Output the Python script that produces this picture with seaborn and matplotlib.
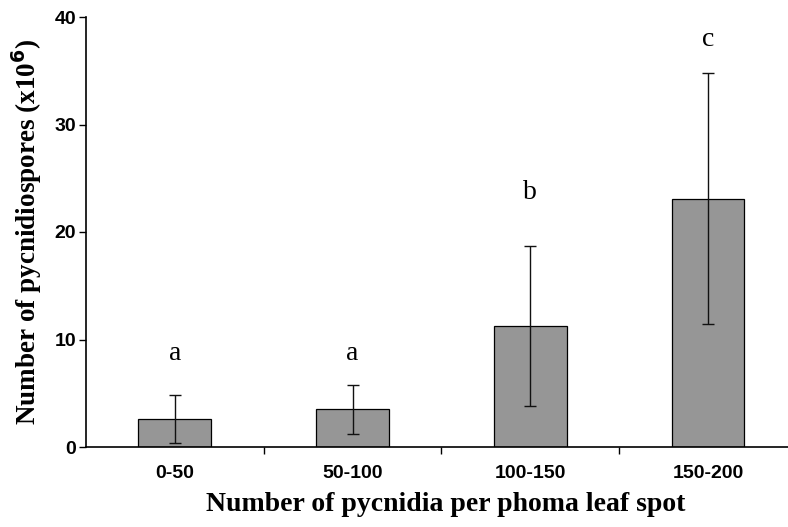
import matplotlib
matplotlib.use("Agg")
import matplotlib.pyplot as plt
import seaborn as sns
import pandas as pd

categories = ["0-50", "50-100", "100-150", "150-200"]
means = [2.6, 3.5, 11.25, 23.1]
errors = [2.2, 2.3, 7.45, 11.7]
letters = ["a", "a", "b", "c"]
letter_y = [8.7, 8.7, 23.7, 37.9]
yticks = [0, 10, 20, 30, 40]

sns.set_style("ticks")
plt.rcParams.update({"text.color": "black", "axes.labelcolor": "black",
                     "xtick.color": "black", "ytick.color": "black",
                     "axes.edgecolor": "black"})
df = pd.DataFrame({"cat": categories, "val": means})

fig = plt.figure(figsize=(7.88, 5.27), dpi=100)
ax = fig.add_axes([86 / 788, 1 - 447 / 527, (788 - 86) / 788, (447 - 17) / 527])

sns.barplot(data=df, x="cat", y="val", color="#969696", saturation=1,
            edgecolor="black", linewidth=0.9, width=0.41, errorbar=None, ax=ax)
ax.errorbar(range(len(categories)), means, yerr=errors, fmt="none",
            ecolor="#111111", elinewidth=1.0, capsize=4, capthick=1.0)

for i, (l, y) in enumerate(zip(letters, letter_y)):
    ax.text(i, y, l, ha="center", va="center", fontsize=20,
            family="Liberation Serif", color="black")

ax.set_ylim(0, 40)
ax.set_xlim(-0.5, 3.45)
ax.set_yticks(yticks)
ax.set_yticklabels([str(t) for t in yticks], fontsize=14, fontweight="bold",
                   family="Liberation Sans")
ax.set_xticks([0.5, 1.5, 2.5])
ax.set_xticklabels([])
ax.set_xticks(range(len(categories)), minor=True)
ax.set_xticklabels(categories, minor=True, fontsize=14, fontweight="bold",
                   family="Liberation Sans")
ax.tick_params(axis="x", which="minor", length=0, pad=13)
ax.tick_params(axis="x", which="major", length=5, width=1, direction="out")
ax.tick_params(axis="y", length=5, width=1, direction="out", pad=2)

ax.set_xlabel("Number of pycnidia per phoma leaf spot", fontsize=20,
              fontweight="bold", family="Liberation Serif", labelpad=10)
ax.xaxis.set_label_coords(0.512, -0.105)
ax.set_ylabel("Number of pycnidiospores (x10$^{\\mathbf{6}}$)", fontsize=19.5,
              fontweight="bold", family="Liberation Serif", labelpad=8)

for s in ["top", "right"]:
    ax.spines[s].set_visible(False)
for s in ["left", "bottom"]:
    ax.spines[s].set_linewidth(1.2)
    ax.spines[s].set_color("black")

fig.savefig("out.png", dpi=100)
